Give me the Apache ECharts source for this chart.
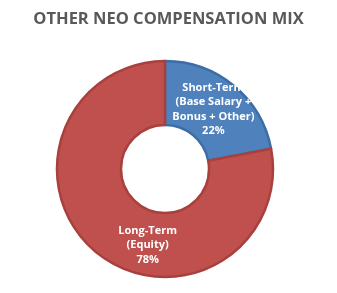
<!DOCTYPE html>
<html><head><meta charset="utf-8">
<script src="https://cdn.jsdelivr.net/npm/echarts@6/dist/echarts.min.js"></script>
<style>html,body{margin:0;padding:0;background:#fff}#c{width:337px;height:293px}</style>
</head><body><div id="c"></div>
<script>
var title = 'OTHER NEO COMPENSATION MIX';
var categories = ['Short-Term\n(Base Salary +\nBonus + Other)', 'Long-Term\n(Equity)'];
var values = [22, 78];
var colors = ['#4F81BD', '#C0504D'];
var borders = ['#3D6DA6', '#A8403D'];

var chart = echarts.init(document.getElementById('c'), null, {renderer: 'canvas'});
chart.setOption({
  animation: false,
  title: {
    text: title, left: 'center', top: 6,
    textStyle: {fontFamily: 'Open Sans', fontWeight: 'bold', fontSize: 16.5, color: '#595959'}
  },
  series: [{
    type: 'pie',
    center: [165, 169],
    radius: [44, 108],
    startAngle: 90,
    clockwise: true,
    data: categories.map(function (c, i) {
      return {name: c, value: values[i],
        itemStyle: {color: colors[i], borderColor: borders[i], borderWidth: 2.5}};
    }),
    label: {
      show: true, position: 'inside',
      formatter: function (p) { return p.name + '\n' + p.value + '%'; },
      color: '#fff', fontFamily: 'Open Sans', fontWeight: 'bold', fontSize: 11, lineHeight: 14.5
    },
    labelLayout: function (p) {
      return p.dataIndex === 0 ? {dx: -2, dy: 1} : {dx: 33, dy: 15};
    },
    labelLine: {show: false},
    emphasis: {disabled: true}
  }]
});
</script></body></html>
